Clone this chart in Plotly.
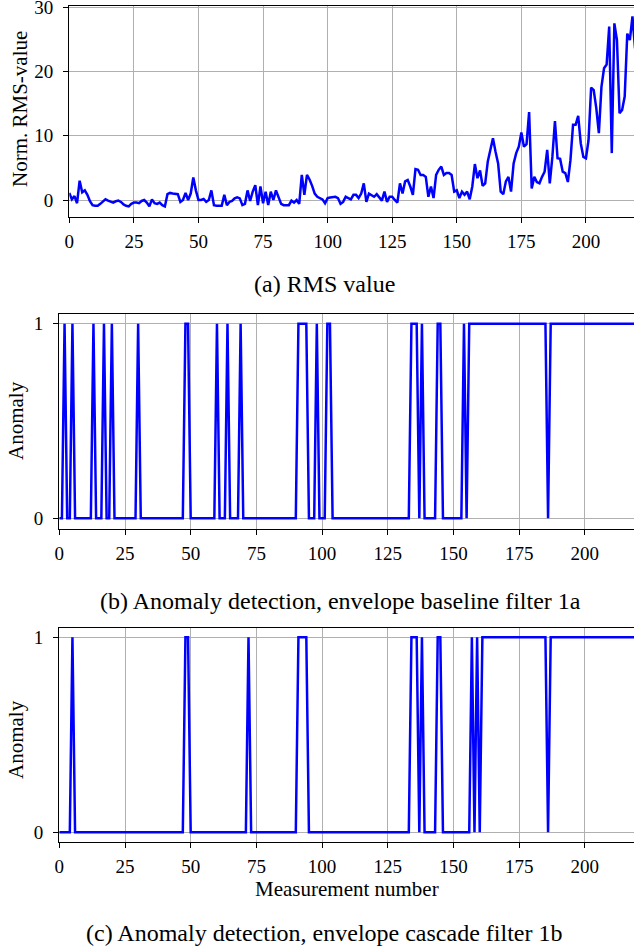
import plotly.graph_objects as go

# measurement index 0..219
measurement = list(range(220))

# normalised RMS value (a)
rms_value = [
    1.1, 0.1, 0.6, -0.5, 3.0, 1.2, 1.5, 0.8, -0.2, -0.8,
    -0.9, -0.9, -0.6, -0.3, 0.1, -0.1, -0.2, -0.4, -0.2, -0.1,
    -0.3, -0.7, -0.9, -1.0, -0.6, -0.4, -0.4, -0.5, -0.15, 0.0,
    -0.4, -1.0, 0.1, -0.5, -0.6, -0.4, -0.8, -1.0, 0.9, 1.1,
    1.0, 1.0, 0.9, -0.3, 0.0, 1.1, 0.0, 1.0, 3.5, 1.5,
    0.0, 0.0, 0.15, -0.3, 0.0, 1.5, -0.8, -0.9, -0.9, -0.9,
    0.8, -0.8, -0.3, -0.15, 0.25, 0.4, 0.25, -0.8, -0.6, 1.5,
    -0.15, 1.3, 2.3, -0.8, 2.1, -0.5, 1.3, -0.8, 1.3, 0.0,
    1.5, 0.5, -0.6, -0.8, -0.8, -0.8, -0.1, -0.4, 0.0, -0.6,
    3.9, 0.8, 3.9, 3.2, 2.2, 1.0, 0.5, 0.3, 0.1, -0.5,
    0.3, 0.4, 0.5, 0.5, 0.3, -0.6, -0.3, 0.5, 0.3, 0.1,
    0.8, 0.8, 0.3, 1.0, 2.6, -0.3, 1.0, 0.8, 0.5, 0.9,
    0.3, -0.1, 1.3, -0.3, 0.5, 0.5, 0.0, -0.4, 2.6, 1.0,
    2.9, 3.1, 2.1, 0.8, 4.8, 4.7, 3.9, 3.9, 3.6, 0.5,
    2.1, 0.3, 3.9, 4.7, 5.2, 3.9, 4.2, 4.2, 3.9, 1.3,
    1.5, 0.3, 1.3, 0.8, 1.3, 0.1, 2.1, 5.6, 3.4, 4.6,
    2.2, 2.6, 6.0, 8.0, 9.6, 7.5, 5.7, 1.3, 0.9, 2.9,
    3.6, 1.3, 5.7, 7.3, 8.3, 10.5, 8.3, 8.7, 13.7, 1.8,
    3.6, 2.8, 2.6, 3.6, 4.4, 7.8, 2.6, 6.7, 12.3, 6.5,
    6.4, 4.4, 4.2, 2.8, 6.2, 11.7, 11.7, 13.1, 8.8, 6.7,
    6.5, 9.3, 17.5, 17.1, 14.3, 10.4, 17.6, 20.5, 21.1, 27.0,
    7.3, 27.5, 24.9, 13.5, 14.0, 16.1, 25.9, 24.9, 28.6, 23.6,
]

# anomaly flags, baseline filter 1a (b)
anomaly_baseline = [
    0, 0, 1, 0, 0, 1, 0, 0, 0, 0, 0, 0, 0, 1, 0, 0, 0, 1, 0, 0,
    1, 0, 0, 0, 0, 0, 0, 0, 0, 0, 1, 0, 0, 0, 0, 0, 0, 0, 0, 0,
    0, 0, 0, 0, 0, 0, 0, 0, 1, 1, 0, 0, 0, 0, 0, 0, 0, 0, 0, 0,
    1, 0, 0, 0, 1, 0, 0, 0, 0, 1, 0, 0, 0, 0, 0, 0, 0, 0, 0, 0,
    0, 0, 0, 0, 0, 0, 0, 0, 0, 0, 0, 1, 1, 1, 1, 0, 0, 0, 1, 0,
    0, 0, 1, 1, 0, 0, 0, 0, 0, 0, 0, 0, 0, 0, 0, 0, 0, 0, 0, 0,
    0, 0, 0, 0, 0, 0, 0, 0, 0, 0, 0, 0, 0, 0, 1, 1, 1, 0, 1, 0,
    0, 0, 0, 0, 1, 1, 0, 0, 0, 0, 0, 0, 0, 0, 1, 0, 1, 1, 1, 1,
    1, 1, 1, 1, 1, 1, 1, 1, 1, 1, 1, 1, 1, 1, 1, 1, 1, 1, 1, 1,
    1, 1, 1, 1, 1, 1, 0, 1, 1, 1, 1, 1, 1, 1, 1, 1, 1, 1, 1, 1,
    1, 1, 1, 1, 1, 1, 1, 1, 1, 1, 1, 1, 1, 1, 1, 1, 1, 1, 1, 1,
]

# anomaly flags, cascade filter 1b (c)
anomaly_cascade = [
    0, 0, 0, 0, 0, 1, 0, 0, 0, 0, 0, 0, 0, 0, 0, 0, 0, 0, 0, 0,
    0, 0, 0, 0, 0, 0, 0, 0, 0, 0, 0, 0, 0, 0, 0, 0, 0, 0, 0, 0,
    0, 0, 0, 0, 0, 0, 0, 0, 1, 1, 0, 0, 0, 0, 0, 0, 0, 0, 0, 0,
    0, 0, 0, 0, 0, 0, 0, 0, 0, 0, 0, 0, 1, 0, 0, 0, 0, 0, 0, 0,
    0, 0, 0, 0, 0, 0, 0, 0, 0, 0, 0, 1, 1, 1, 1, 0, 0, 0, 0, 0,
    0, 0, 0, 0, 0, 0, 0, 0, 0, 0, 0, 0, 0, 0, 0, 0, 0, 0, 0, 0,
    0, 0, 0, 0, 0, 0, 0, 0, 0, 0, 0, 0, 0, 0, 1, 1, 1, 0, 1, 0,
    0, 0, 0, 0, 1, 1, 0, 0, 0, 0, 0, 0, 0, 0, 0, 0, 0, 1, 0, 1,
    0, 1, 1, 1, 1, 1, 1, 1, 1, 1, 1, 1, 1, 1, 1, 1, 1, 1, 1, 1,
    1, 1, 1, 1, 1, 1, 0, 1, 1, 1, 1, 1, 1, 1, 1, 1, 1, 1, 1, 1,
    1, 1, 1, 1, 1, 1, 1, 1, 1, 1, 1, 1, 1, 1, 1, 1, 1, 1, 1, 1,
]

x_ticks = [0, 25, 50, 75, 100, 125, 150, 175, 200]

W, H = 634, 951
FONT = "Liberation Serif"


def px_x(v):
    return v / W


def px_y(v):
    return 1 - v / H


fig = go.Figure()
fig.add_trace(go.Scatter(x=measurement, y=rms_value, mode="lines",
                         line=dict(color="#0000ff", width=2.5), xaxis="x", yaxis="y"))
fig.add_trace(go.Scatter(x=measurement, y=anomaly_baseline, mode="lines",
                         line=dict(color="#0000ff", width=2.5), xaxis="x2", yaxis="y2"))
fig.add_trace(go.Scatter(x=measurement, y=anomaly_cascade, mode="lines",
                         line=dict(color="#0000ff", width=2.5), xaxis="x3", yaxis="y3"))

axis_common = dict(showgrid=True, gridcolor="#b0b0b0", gridwidth=1, zeroline=False,
                   showline=True, linecolor="black", linewidth=1.3,
                   ticks="outside", ticklen=5, tickwidth=1.2, tickcolor="black",
                   ticklabeloverflow="allow",
                   tickfont=dict(family=FONT, size=19, color="black"), automargin=False)

xa = dict(axis_common, tickvals=x_ticks, mirror=True, ticklabelstandoff=2)
ya = dict(axis_common, ticklabelstandoff=6)

fig.update_layout(
    width=W, height=H,
    margin=dict(l=0, r=0, t=0, b=0),
    paper_bgcolor="white", plot_bgcolor="white",
    showlegend=False,
    xaxis=dict(xa, domain=[px_x(69.3), 1], range=[0, 218.6], anchor="y"),
    yaxis=dict(ya, domain=[px_y(216.7), px_y(6)], range=[-2.6, 30.2],
               tickvals=[0, 10, 20, 30], anchor="x"),
    xaxis2=dict(xa, domain=[px_x(59.3), 1], range=[0, 218.7], anchor="y2"),
    yaxis2=dict(ya, domain=[px_y(529), px_y(314)], range=[-0.055, 1.05],
                tickvals=[0, 1], anchor="x2"),
    xaxis3=dict(xa, domain=[px_x(59.3), 1], range=[0, 218.7], anchor="y3"),
    yaxis3=dict(ya, domain=[px_y(842), px_y(628)], range=[-0.05, 1.048],
                tickvals=[0, 1], anchor="x3"),
)

labels = [
    ("Norm. RMS-value", 20, 109, -90, 21),
    ("Anomaly", 16, 421, -90, 21),
    ("Anomaly", 16, 740, -90, 21),
    ("Measurement number", 346.5, 889, 0, 21),
    ("(a) RMS value", 324, 284, 0, 24),
    ("(b) Anomaly detection, envelope baseline filter 1a", 340, 601, 0, 24),
    ("(c) Anomaly detection, envelope cascade filter 1b", 324, 933, 0, 24),
]
for text, x, y, ang, size in labels:
    fig.add_annotation(text=text, x=px_x(x), y=px_y(y), xref="paper", yref="paper",
                       xanchor="center", yanchor="middle", textangle=ang,
                       showarrow=False, font=dict(family=FONT, size=size, color="black"))

# page body has a default margin; drop it so the figure sits at the window corner
fig.write_html("out.html", config={"displayModeBar": False},
               post_script="document.body.style.margin='0';")
